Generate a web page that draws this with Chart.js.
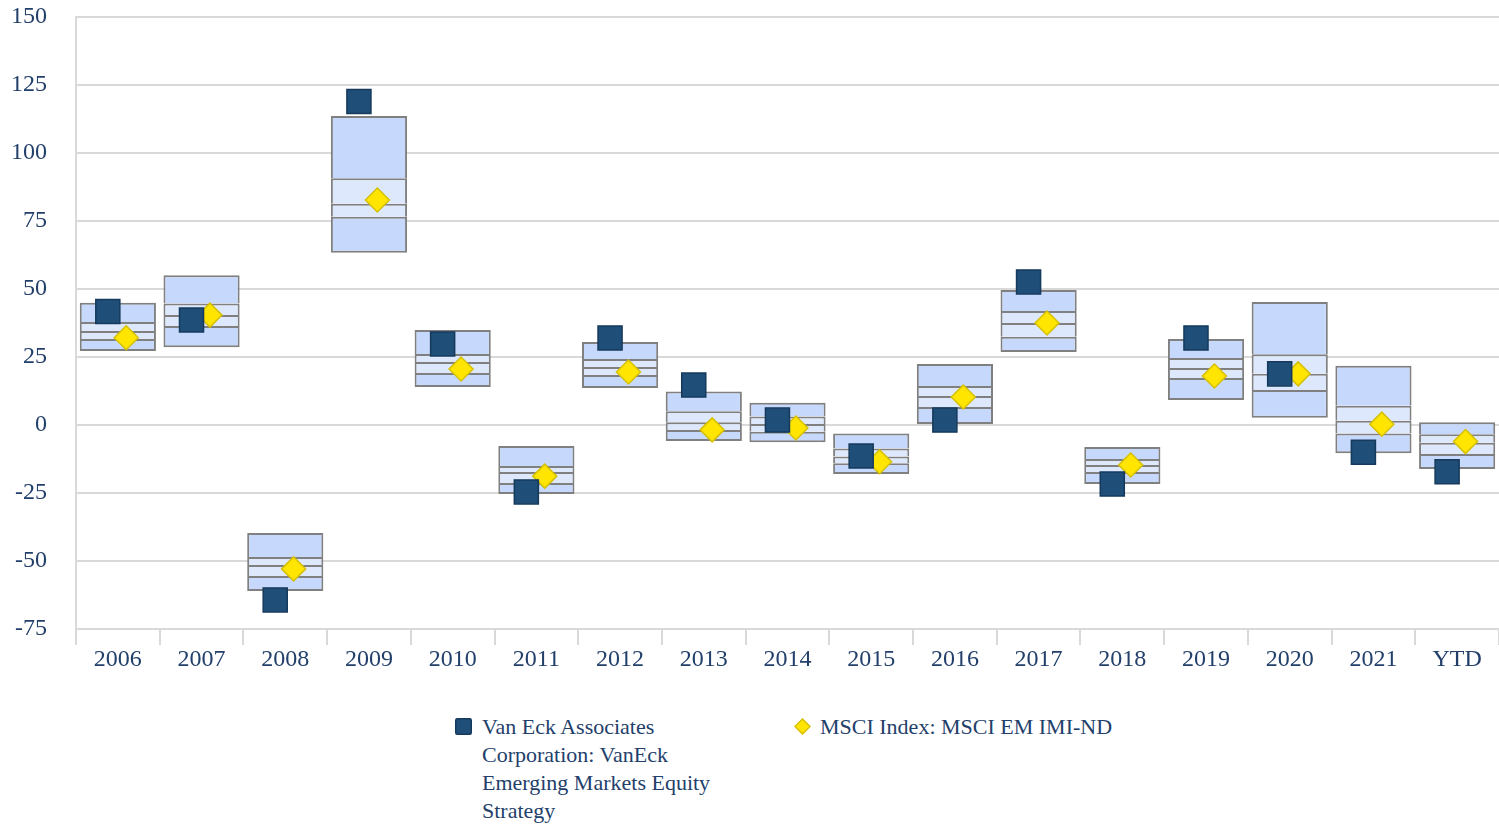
<!DOCTYPE html>
<html>
<head>
<meta charset="utf-8">
<script src="https://cdn.jsdelivr.net/npm/chart.js@4.4.0/dist/chart.umd.min.js"></script>
<style>
    body { margin: 0; background: #fff; }
    #wrap { position: relative; width: 1499px; height: 826px; }
    #box { position: absolute; left: 0; top: 0; width: 1499px; height: 690px; }
    .leg { position: absolute; top: 713px; font-family: "Liberation Serif", "Times New Roman", serif;
           font-size: 22px; line-height: 28px; color: #23406b; display: flex; }
    .leg .mk { flex: none; margin-top: 5px; margin-right: 10px; }
</style>
</head>
<body>
<div id="wrap">
    <div id="box"><canvas id="chartRank"></canvas></div>
    <div id="legend"></div>
</div>
<script>
// categories and values
const categories = ['2006', '2007', '2008', '2009', '2010', '2011', '2012', '2013', '2014',
    '2015', '2016', '2017', '2018', '2019', '2020', '2021', 'YTD'];
const p95 = [44.9, 55.1, -39.7, 113.6, 34.9, -7.7, 30.5, 12.3, 8.2, -3.1, 22.4, 49.6, -8.1, 31.6, 45.2, 21.8, 1.0];
const p75 = [37.9, 44.7, -48.5, 90.7, 26.1, -15.1, 24.3, 5.1, 3.1, -8.6, 14.3, 41.9, -12.5, 24.6, 26.0, 7.1, -3.4];
const median = [34.6, 40.4, -51.5, 81.3, 23.2, -17.3, 21.3, 1.0, 0.4, -11.6, 10.7, 37.5, -14.7, 21.0, 18.8, 1.6, -6.5];
const p25 = [31.6, 36.4, -55.5, 76.6, 19.1, -21.3, 18.4, -1.8, -2.5, -14.1, 6.6, 32.4, -17.3, 17.3, 12.9, -3.1, -10.7];
const p5 = [27.2, 28.6, -61.0, 63.3, 14.0, -25.4, 13.6, -5.9, -6.3, -18.0, 0.4, 26.8, -21.7, 9.2, 2.7, -10.4, -16.2];
const fundValues = [41.7, 38.6, -64.3, 118.9, 29.8, -24.6, 32.0, 14.7, 1.8, -11.4, 1.8, 52.6, -21.7, 32.0, 18.8, -10.0, -17.2];
const indexValues = [32.1, 40.4, -52.9, 82.7, 20.6, -18.8, 19.5, -1.8, -1.1, -13.5, 10.3, 37.5, -14.7, 18.0, 18.8, 0.3, -6.1];
const yTicks = [-75, -50, -25, 0, 25, 50, 75, 100, 125, 150];
const fundName = 'Van Eck Associates Corporation: VanEck Emerging Markets Equity Strategy';
const indexName = 'MSCI Index: MSCI EM IMI-ND';

const tickFont = { family: '"Liberation Serif", "Times New Roman", serif', size: 24 };
const tickColor = '#23406b';

// one slice of the range box; only the lowest slice draws a bottom edge
function band(lo, hi, color, bottomEdge) {
    return {
        type: 'bar',
        data: categories.map((c, i) => [lo[i], hi[i]]),
        backgroundColor: color,
        borderColor: '#808080',
        borderWidth: { top: 2, left: 2, right: 2, bottom: bottomEdge ? 2 : 0 },
        borderSkipped: false,
        grouped: false,
        barPercentage: 0.91,
        categoryPercentage: 1,
        order: 2
    };
}

function initChart() {
    const ctx = document.getElementById('chartRank');
    new Chart(ctx, {
        type: 'bar',
        data: {
            labels: categories,
            datasets: [
                {
                    type: 'scatter',
                    label: fundName,
                    xAxisID: 'x2',
                    data: fundValues.map((v, i) => ({ x: i - 0.12, y: v })),
                    pointStyle: 'rect',
                    pointRadius: 17,
                    backgroundColor: '#1f4e79',
                    borderColor: '#163a5c',
                    borderWidth: 1.5,
                    order: 0
                },
                {
                    type: 'scatter',
                    label: indexName,
                    xAxisID: 'x2',
                    data: indexValues.map((v, i) => ({ x: i + 0.1, y: v })),
                    pointStyle: 'rectRot',
                    pointRadius: 12,
                    backgroundColor: '#ffe500',
                    borderColor: '#d6c000',
                    borderWidth: 1.5,
                    order: 1
                },
                band(p5, p25, '#c6d9fc', true),
                band(p25, median, '#dde8fd', false),
                band(median, p75, '#dde8fd', false),
                band(p75, p95, '#c6d9fc', false)
            ]
        },
        options: {
            responsive: true,
            maintainAspectRatio: false,
            animation: false,
            layout: { autoPadding: false, padding: 0 },
            plugins: {
                legend: { display: false },
                tooltip: { enabled: false }
            },
            scales: {
                x: {
                    type: 'category',
                    offset: true,
                    grid: {
                        offset: true,
                        drawOnChartArea: false,
                        drawTicks: true,
                        tickLength: 16,
                        color: '#d9d9d9',
                        lineWidth: 2
                    },
                    border: { display: false },
                    ticks: { font: tickFont, color: tickColor, padding: 0, maxRotation: 0 },
                    afterFit: function(scale) {
                        scale.height = 61;
                        scale.paddingLeft = 0;
                        scale.paddingRight = 0;
                    }
                },
                x2: {
                    type: 'linear',
                    display: false,
                    offset: false,
                    grid: { offset: false },
                    min: -0.5,
                    max: categories.length - 0.5
                },
                y: {
                    min: -75,
                    max: 150,
                    afterBuildTicks: function(scale) {
                        scale.ticks = yTicks.map(v => ({ value: v }));
                    },
                    grid: { color: '#d9d9d9', lineWidth: 2, drawTicks: false },
                    border: { display: true, color: '#d9d9d9', width: 2 },
                    ticks: { font: tickFont, color: tickColor, padding: 29 },
                    afterFit: function(scale) {
                        scale.width = 76;
                        scale.paddingTop = 17;
                        scale.paddingBottom = 0;
                    }
                }
            }
        }
    });
}

function buildLegend() {
    const legend = document.getElementById('legend');
    legend.innerHTML =
        '<div class="leg" style="left:455px;width:290px;">' +
        '<svg class="mk" width="17" height="17"><rect x="0.75" y="0.75" width="15.5" height="15.5" rx="1.5" fill="#1f4e79" stroke="#163a5c" stroke-width="1.5"/></svg>' +
        '<span style="width:262px">' + fundName + '</span></div>' +
        '<div class="leg" style="left:794px;">' +
        '<svg class="mk" width="17" height="17" style="margin-right:9px"><polygon points="8.5,1 16,8.5 8.5,16 1,8.5" fill="#ffe500" stroke="#d6c000" stroke-width="1.5"/></svg>' +
        '<span>' + indexName + '</span></div>';
}

document.addEventListener('DOMContentLoaded', function() {
    initChart();
    buildLegend();
});
</script>
</body>
</html>
